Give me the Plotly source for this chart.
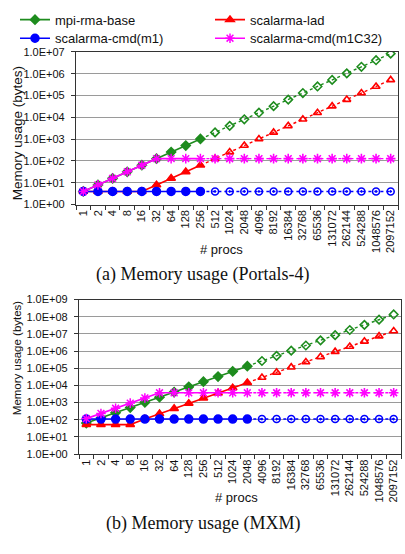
import plotly.graph_objects as go

# ---------------- data ----------------
procs = ["1", "2", "4", "8", "16", "32", "64", "128", "256", "512", "1024", "2048",
         "4096", "8192", "16384", "32768", "65536", "131072", "262144", "524288",
         "1048576", "2097152"]

series_names = ["mpi-rma-base", "scalarma-lad", "scalarma-cmd(m1)", "scalarma-cmd(m1C32)"]

# (a) Portals-4
portals_mpi = [4, 8, 16, 32, 64, 128, 256, 512, 1024, 2048, 4096, 8192, 16384, 32768,
               65536, 131072, 262144, 524288, 1048576, 2097152, 4194304, 8388608]
portals_lad = [4, 4, 4, 4, 4, 8, 16, 32, 64, 128, 256, 512, 1024, 2048, 4096, 8192,
               16384, 32768, 65536, 131072, 262144, 524288]
portals_cmd = [4, 4, 4, 4, 4, 4, 4, 4, 4, 4, 4, 4, 4, 4, 4, 4, 4, 4, 4, 4, 4, 4]
portals_c32 = [4, 8, 16, 32, 64, 128, 128, 128, 128, 128, 128, 128, 128, 128, 128, 128,
               128, 128, 128, 128, 128, 128]
portals_last_measured = 8   # index of last measured point (256 procs)

# (b) MXM
mxm_mpi = [64, 128, 256, 512, 1024, 2048, 4096, 8192, 16384, 32768, 65536, 131072,
           262144, 524288, 1048576, 2097152, 4194304, 8388608, 16777216, 33554432,
           67108864, 134217728]
mxm_lad = [52, 52, 52, 52, 112, 224, 448, 896, 1792, 3584, 7168, 14336, 28672, 57344,
           114688, 229376, 458752, 917504, 1835008, 3670016, 7340032, 14680064]
mxm_cmd = [110, 110, 110, 110, 110, 110, 110, 110, 110, 110, 110, 110, 110, 110, 110,
           110, 110, 110, 110, 110, 110, 110]
mxm_c32 = [116, 232, 464, 928, 1856, 3712, 3712, 3712, 3712, 3712, 3712, 3712, 3712,
           3712, 3712, 3712, 3712, 3712, 3712, 3712, 3712, 3712]
mxm_last_measured = 11      # index of last measured point (2048 procs)

ytick_vals_a = [1, 10, 100, 1000, 10000, 100000, 1000000, 10000000]
ytick_text_a = ["1.0E+00", "1.0E+01", "1.0E+02", "1.0E+03", "1.0E+04", "1.0E+05",
                "1.0E+06", "1.0E+07"]
ytick_vals_b = [1, 10, 100, 1000, 10000, 100000, 1000000, 10000000, 100000000, 1000000000]
ytick_text_b = ["1.0E+00", "1.0E+01", "1.0E+02", "1.0E+03", "1.0E+04", "1.0E+05",
                "1.0E+06", "1.0E+07", "1.0E+08", "1.0E+09"]

# ---------------- styles ----------------
W, H = 405, 554
FONT = "Liberation Sans, Arial, sans-serif"
SERIF = "Liberation Serif, DejaVu Serif, serif"
colors = ["#1e8c1e", "#ff0000", "#0000ff", "#ff00ff"]
filled_sym = ["diamond", "triangle-up", "circle", "asterisk-open"]
open_sym = ["diamond-open", "triangle-up-open", "circle-open-dot", "asterisk-open"]
filled_size = [7, 7.5, 8, 8]
open_size = [6.5, 7, 7, 8]
legend_rows = ["legend", "legend", "legend2", "legend2"]

fig = go.Figure()


def add_chart(values_list, last, xa, ya, legend):
    for i, vals in enumerate(values_list):
        c = colors[i]
        fig.add_trace(go.Scatter(
            x=procs[:last + 1], y=vals[:last + 1], mode="lines+markers",
            name=series_names[i], showlegend=legend, legend=legend_rows[i],
            line=dict(color=c, width=1.6),
            marker=dict(symbol=filled_sym[i], size=filled_size[i], color=c,
                        line=dict(color=c, width=1.5)),
            xaxis=xa, yaxis=ya))
        n = len(vals) - last
        fig.add_trace(go.Scatter(
            x=procs[last:], y=vals[last:], mode="lines+markers",
            name=series_names[i], showlegend=False,
            line=dict(color=c, width=1.4, dash="dot"),
            marker=dict(symbol=open_sym[i], size=open_size[i], color=c,
                        opacity=[0] + [1] * (n - 1),
                        line=dict(color=c, width=1.6)),
            xaxis=xa, yaxis=ya))


add_chart([portals_mpi, portals_lad, portals_cmd, portals_c32], portals_last_measured,
          "x", "y", True)
add_chart([mxm_mpi, mxm_lad, mxm_cmd, mxm_c32], mxm_last_measured, "x2", "y2", False)

axis_common = dict(showline=True, mirror=True, linecolor="#333333", linewidth=1.2,
                   ticks="outside", ticklen=4, tickcolor="#333333",
                   tickfont=dict(family=FONT, size=11, color="#111111"))

xcommon = dict(type="category", categoryorder="array", categoryarray=procs,
               range=[-0.5, len(procs) - 0.5], tickangle=-90, tickson="boundaries",
               showgrid=False, **axis_common)

legend_common = dict(orientation="h", x=28 / W, xanchor="left", yanchor="middle",
                     entrywidth=150, entrywidthmode="pixels",
                     font=dict(family=FONT, size=13, color="#111111"),
                     bgcolor="rgba(0,0,0,0)")

fig.update_layout(
    width=W, height=H, margin=dict(l=0, r=0, t=0, b=0),
    paper_bgcolor="white", plot_bgcolor="white",
    font=dict(family=FONT, color="#111111"),
    xaxis=dict(domain=[76 / W, 398 / W], anchor="y", **xcommon),
    yaxis=dict(domain=[1 - 203 / H, 1 - 47 / H], anchor="x", type="log",
               range=[0, 7], tickvals=ytick_vals_a, ticktext=ytick_text_a,
               ticklabelstandoff=4,
               showgrid=True, gridcolor="#9a9a9a", gridwidth=1, **axis_common),
    xaxis2=dict(domain=[79 / W, 401 / W], anchor="y2", **xcommon),
    yaxis2=dict(domain=[1 - 458 / H, 1 - 300 / H], anchor="x2", type="log",
                range=[0, 9], tickvals=ytick_vals_b, ticktext=ytick_text_b,
                ticklabelstandoff=4,
                showgrid=True, gridcolor="#9a9a9a", gridwidth=1, **axis_common),
    legend=dict(y=1 - 14 / H, **legend_common),
    legend2=dict(y=1 - 33 / H, **legend_common),
    showlegend=True,
)

annots = [
    dict(text="Memory usage (bytes)", x=17 / W, y=1 - 130 / H, textangle=-90,
         font=dict(family=FONT, size=13.5, color="#111111")),
    dict(text="Memory usage (bytes)", x=17 / W, y=1 - 360 / H, textangle=-90,
         font=dict(family=FONT, size=11.5, color="#111111")),
    dict(text="# procs", x=221 / W, y=1 - 249 / H,
         font=dict(family=FONT, size=13, color="#111111")),
    dict(text="# procs", x=237 / W, y=1 - 502 / H,
         font=dict(family=FONT, size=13, color="#111111")),
    dict(text="(a) Memory usage (Portals-4)", x=202 / W, y=1 - 274 / H,
         font=dict(family=SERIF, size=18, color="#111111")),
    dict(text="(b) Memory usage (MXM)", x=203 / W, y=1 - 529 / H,
         font=dict(family=SERIF, size=18, color="#111111")),
]
for a in annots:
    fig.add_annotation(xref="paper", yref="paper", xanchor="center", yanchor="middle",
                       showarrow=False, **a)

fig.write_html("out.html")
